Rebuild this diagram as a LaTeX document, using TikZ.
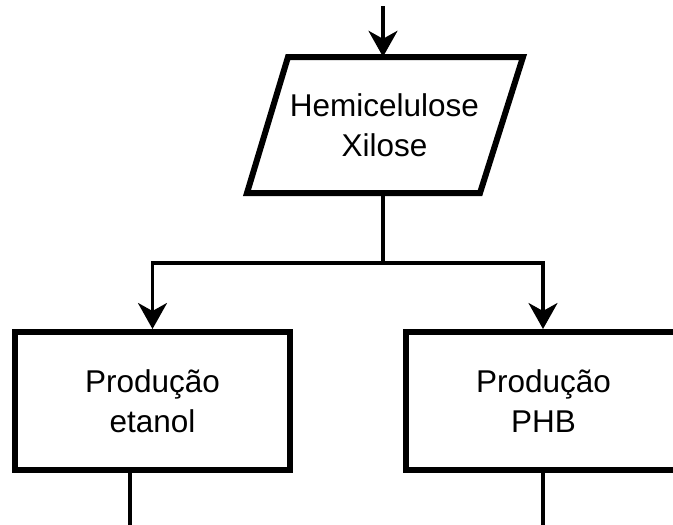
\documentclass[tikz,border=0pt]{standalone}
\usepackage{fontspec}
\setmainfont{Liberation Sans}
\usetikzlibrary{arrows.meta}
\begin{document}
\begin{tikzpicture}[x=1pt,y=-1pt,
  shapeline/.style={line width=6pt, line join=miter},
  label/.style={align=center, font=\fontsize{31.5}{40}\selectfont, inner sep=0pt},
  procbox/.style={shapeline, draw, minimum width=275pt, minimum height=138pt, label},
  flow/.style={line width=3.5pt},
  flowarrow/.style={flow, -{Stealth[length=26pt, width=29pt, inset=8pt]}}
]
\useasboundingbox (0,0) rectangle (673,525);
\clip (0,0) rectangle (673,525);

% Input parallelogram: Hemicelulose / Xilose
\node[label, minimum width=192pt, minimum height=136pt] (hx) at (384.5,125) {Hemicelulose\\Xilose};
\draw[shapeline] (288,57) -- (523,57) -- (480,193) -- (247,193) -- cycle;

% Process boxes
\node[procbox] (etanol) at (152.5,401) {Produção\\etanol};
\node[procbox] (phb) at (543.5,401) {Produção\\PHB};

% Helper points for connectors
\coordinate (src) at (383,6);
\coordinate (split) at (383,263);
\coordinate (lout) at (130,525);
\coordinate (rout) at (543,525);

% Connectors
\draw[flowarrow] (src) -- (hx.north -| src);
\draw[flow] (hx.south -| split) -- (split);
\draw[flowarrow] (split) -| (etanol.north);
\draw[flowarrow] (split) -| (phb.north -| rout);
\draw[flow] (etanol.south -| lout) -- (lout);
\draw[flow] (phb.south -| rout) -- (rout);
\end{tikzpicture}
\end{document}
